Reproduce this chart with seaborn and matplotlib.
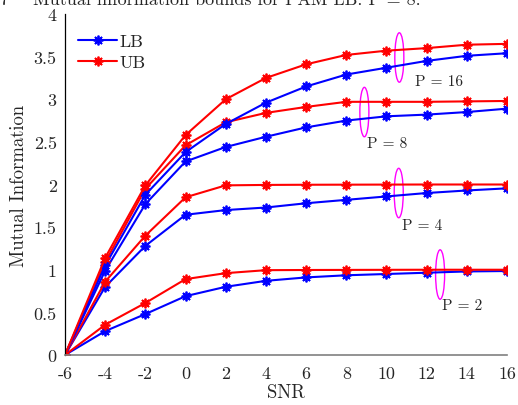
import numpy as np
import pandas as pd
import matplotlib
matplotlib.use("Agg")
import matplotlib.pyplot as plt
from matplotlib.patches import Ellipse
import seaborn as sns

# SNR grid (dB)
snr = [-6, -4, -2, 0, 2, 4, 6, 8, 10, 12, 14, 16]

# lower / upper bounds, one pair per PAM order
lb_p2 = [0, 0.28, 0.48, 0.69, 0.80, 0.87, 0.91, 0.935, 0.95, 0.965, 0.98, 0.985]
ub_p2 = [0, 0.355, 0.61, 0.89, 0.96, 0.995, 0.997, 0.998, 0.999, 1.0, 1.0, 1.0]
lb_p4 = [0, 0.80, 1.28, 1.645, 1.70, 1.73, 1.78, 1.82, 1.86, 1.90, 1.93, 1.955]
ub_p4 = [0, 0.86, 1.40, 1.85, 1.99, 1.995, 1.997, 1.998, 1.999, 2.0, 2.0, 2.0]
lb_p8 = [0, 0.99, 1.77, 2.27, 2.44, 2.56, 2.67, 2.75, 2.80, 2.82, 2.85, 2.89]
ub_p8 = [0, 1.09, 1.95, 2.46, 2.73, 2.84, 2.91, 2.97, 2.97, 2.97, 2.975, 2.98]
lb_p16 = [0, 1.05, 1.88, 2.38, 2.71, 2.96, 3.15, 3.29, 3.37, 3.45, 3.51, 3.54]
ub_p16 = [0, 1.14, 1.99, 2.58, 3.00, 3.25, 3.41, 3.52, 3.57, 3.60, 3.64, 3.65]

# ellipse annotations: (x, y) centres and labels
ell_x = [12.67, 10.61, 8.9, 10.64]
ell_y = [0.944, 1.90, 2.85, 3.49]
lab_text = ["P = 2", "P = 4", "P = 8", "P = 16"]
lab_x = [13.75, 11.76, 10.05, 12.6]
lab_y = [0.59, 1.525, 2.49, 3.21]

yticks = [0, 0.5, 1, 1.5, 2, 2.5, 3, 3.5, 4]
ytick_labels = ["0", "0.5", "1", "1.5", "2", "2.5", "3", "3.5", "4"]

sns.set_style("white")
plt.rcParams.update({
    "font.family": ["cmr10", "DejaVu Serif"],
    "mathtext.fontset": "cm",
    "axes.unicode_minus": False,
    "axes.formatter.use_mathtext": True,
    "text.color": "#262626",
})

TXT = "#262626"
BLUE = "#0000ff"
RED = "#ff0000"
STAR = (8, 2, 0)

fig = plt.figure(figsize=(5.18, 4.06), dpi=100)
ax = fig.add_axes([0.1255, 0.1232, 0.8533, 0.8398])

pairs = [(lb_p2, ub_p2), (lb_p4, ub_p4), (lb_p8, ub_p8), (lb_p16, ub_p16)]
for i, (lb, ub) in enumerate(pairs):
    df = pd.DataFrame({"SNR": snr, "LB": lb, "UB": ub})
    sns.lineplot(data=df, x="SNR", y="LB", ax=ax, color=BLUE, lw=1.5,
                 marker=STAR, markersize=7, markeredgewidth=1.3,
                 markeredgecolor=BLUE, label="LB" if i == 0 else None)
    sns.lineplot(data=df, x="SNR", y="UB", ax=ax, color=RED, lw=1.5,
                 marker=STAR, markersize=7, markeredgewidth=1.3,
                 markeredgecolor=RED, label="UB" if i == 0 else None)

for ex, ey in zip(ell_x, ell_y):
    ax.add_patch(Ellipse((ex, ey), width=0.45, height=0.58, fill=False,
                         edgecolor="#ff00ff", lw=1.0))
for t, lx, ly in zip(lab_text, lab_x, lab_y):
    ax.text(lx, ly, t, ha="center", va="center", fontsize=11, color=TXT)

ax.set_xlim(-6, 16)
ax.set_ylim(0, 4)
ax.set_xticks(snr)
ax.set_xticklabels([str(s) for s in snr])
ax.set_yticks(yticks)
ax.set_yticklabels(ytick_labels)
ax.set_xlabel("SNR", fontsize=13.5, color=TXT, labelpad=1)
ax.set_ylabel("Mutual Information", fontsize=13.5, color=TXT, labelpad=4)

for s in ["top", "right"]:
    ax.spines[s].set_visible(False)
ax.spines["left"].set_color("black")
ax.spines["bottom"].set_color("#808080")
ax.spines["left"].set_linewidth(0.9)
ax.spines["bottom"].set_linewidth(1.2)
ax.tick_params(axis="x", direction="in", length=4, color="#808080",
               labelsize=13, labelcolor=TXT, pad=8)
ax.tick_params(axis="y", direction="in", length=4, color="black",
               labelsize=13, labelcolor=TXT, pad=6)

leg = ax.legend(loc="upper left", frameon=False, fontsize=13,
                handlelength=2.2, handletextpad=0.1, labelspacing=0.3,
                borderaxespad=0.3, bbox_to_anchor=(0.0, 0.98))
for txt in leg.get_texts():
    txt.set_color(TXT)

# caption line cropped at the top of the original image
fig.text(0.0, 0.988, "7    Mutual information bounds for PAM LB: P = 8.",
         ha="left", va="baseline", fontsize=13, color=TXT)

fig.savefig("out.png", dpi=100)
